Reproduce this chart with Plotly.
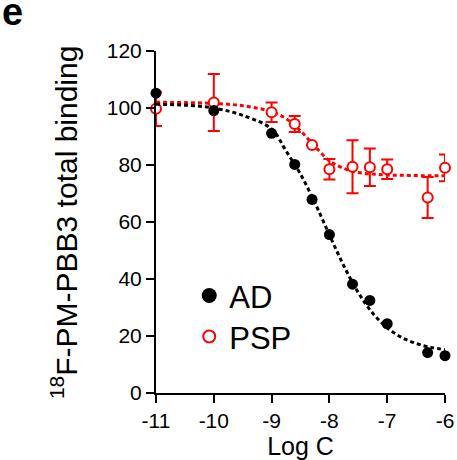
import plotly.graph_objects as go

# ---- data ----
log_c = [-11, -10, -9, -8.6, -8.3, -8, -7.6, -7.3, -7, -6.3, -6]
ad_binding = [105.2, 99.1, 91.1, 80.2, 67.9, 55.6, 38.2, 32.5, 24.3, 14.2, 13.1]
psp_binding = [99.7, 101.9, 98.5, 94.4, 87.0, 78.5, 79.4, 79.2, 78.5, 68.6, 79.0]
psp_err = [6.0, 10.0, 3.4, 2.8, 0.0, 3.6, 9.3, 6.6, 3.4, 7.2, 4.7]

fit_x = [-11, -10.5, -10, -9.5, -9, -8.75, -8.5, -8.25, -8, -7.75, -7.5, -7.25, -7, -6.75, -6.5, -6.25, -6]
ad_fit = [101.3, 101.0, 100.0, 97.4, 92.6, 84.9, 76.8, 66.7, 55.5, 44.6, 35.2, 28.0, 22.9, 19.5, 17.4, 16.0, 15.2]
psp_fit = [102.0, 101.9, 101.6, 100.8, 98.7, 96.3, 92.0, 86.5, 81.5, 78.8, 77.4, 76.8, 76.5, 76.4, 76.3, 76.2, 76.2]

x_ticks = [-11, -10, -9, -8, -7, -6]
y_ticks = [0, 20, 40, 60, 80, 100, 120]

FONT = "Arial, Liberation Sans, Helvetica, sans-serif"
RED = "#ff0000"

fig = go.Figure()

# PSP fit and points
fig.add_trace(go.Scatter(x=fit_x, y=psp_fit, mode="lines", line=dict(color=RED, width=3, dash="4px,3px", shape="spline"),
                         showlegend=False, hoverinfo="skip", cliponaxis=False))
fig.add_trace(go.Scatter(x=log_c, y=psp_binding, mode="markers", showlegend=False, cliponaxis=False,
                         marker=dict(symbol="circle", size=10, color="white", line=dict(color=RED, width=2)),
                         error_y=dict(type="data", array=psp_err, color=RED, thickness=2, width=6)))
# AD fit and points
fig.add_trace(go.Scatter(x=fit_x, y=ad_fit, mode="lines", line=dict(color="black", width=3, dash="4px,3px", shape="spline"),
                         showlegend=False, hoverinfo="skip", cliponaxis=False))
fig.add_trace(go.Scatter(x=log_c, y=ad_binding, mode="markers", showlegend=False, cliponaxis=False,
                         marker=dict(symbol="circle", size=11, color="black")))

# legend entries (one legend per row for exact spacing)
fig.add_trace(go.Scatter(x=[None], y=[None], mode="markers", name="AD", legend="legend",
                         marker=dict(symbol="circle", size=15, color="black")))
fig.add_trace(go.Scatter(x=[None], y=[None], mode="markers", name="PSP", legend="legend2",
                         marker=dict(symbol="circle", size=12, color="white", line=dict(color=RED, width=2))))

leg_common = dict(xanchor="left", yanchor="top", bgcolor="rgba(0,0,0,0)",
                  font=dict(size=31, family=FONT), itemsizing="trace")

fig.update_layout(
    width=457, height=460,
    margin=dict(l=156, r=12, t=51, b=67),
    paper_bgcolor="white", plot_bgcolor="white",
    font=dict(family=FONT, color="black", size=21),
    legend=dict(x=0.115, y=0.363, **leg_common),
    legend2=dict(x=0.115, y=0.243, **leg_common),
    xaxis=dict(range=[-11, -6], tickvals=x_ticks, ticktext=[str(v) for v in x_ticks],
               showgrid=False, zeroline=False, showline=True, linecolor="black", linewidth=2,
               ticks="outside", ticklen=8, tickwidth=2, tickcolor="black", automargin=False,
               tickfont=dict(size=21, family=FONT),
               title=dict(text="Log C", font=dict(size=25, family=FONT), standoff=4)),
    yaxis=dict(range=[0, 120], tickvals=y_ticks, ticktext=[str(v) for v in y_ticks],
               showgrid=False, zeroline=False, showline=True, linecolor="black", linewidth=2,
               ticks="outside", ticklen=8, tickwidth=2, tickcolor="black", automargin=False,
               tickfont=dict(size=21, family=FONT)),
    annotations=[
        dict(text="<sup>18</sup>F-PM-PBB3 total binding", xref="paper", yref="paper",
             x=-0.318, y=0.5, xanchor="center", yanchor="middle", textangle=-90,
             showarrow=False, font=dict(size=30, family=FONT)),
        dict(text="<b>e</b>", xref="paper", yref="paper", x=-0.498, y=1.114,
             xanchor="center", yanchor="middle", showarrow=False, font=dict(size=38, family=FONT)),
    ],
)

fig.write_html("out.html", config={"displayModeBar": False},
               post_script="document.body.style.margin='0';")
